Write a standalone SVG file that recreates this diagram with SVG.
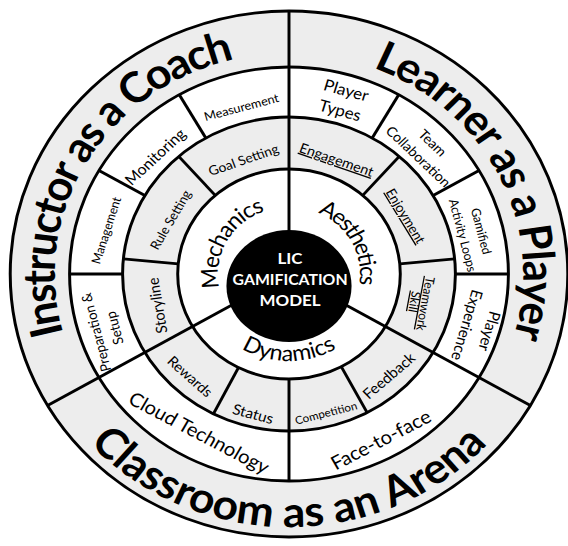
<svg xmlns="http://www.w3.org/2000/svg" width="568" height="546" viewBox="0 0 568 546">
  <defs>
    <style>
      .fill-g { fill: #ededed; stroke: #000; stroke-width: 2.8; }
      .fill-w { fill: #ffffff; stroke: #000; stroke-width: 2.8; }
      .div { stroke: #000; stroke-width: 2.8; fill: none; stroke-linecap: butt; }
      .lbl { font-family: Lato, "Open Sans", "DejaVu Sans", sans-serif; fill: #000; text-anchor: middle; }
      .big { font-family: Lato, "Open Sans", "DejaVu Sans", sans-serif; font-weight: 700; font-size: 42px; fill: #000; }
      .mid { font-family: Lato, "Open Sans", "DejaVu Sans", sans-serif; font-size: 22px; fill: #000; }
      .core { font-family: Lato, "Open Sans", "DejaVu Sans", sans-serif; font-weight: 700; font-size: 16px; fill: #fff; text-anchor: middle; }
      .u { text-decoration: underline; }
    </style>
    <!-- baseline arcs for the curved titles (model coordinates, centre at 0,0) -->
    <path id="arcCoach" d="M -212.96 59.05 A 221 221 0 0 1 -51.58 -214.90"/>
    <path id="arcLearner" d="M 79.20 -206.32 A 221 221 0 0 1 211.90 62.77"/>
    <path id="arcArena" d="M -188.01 169.29 A 253 253 0 0 0 187.12 170.28"/>
    <path id="arcMech" d="M -65.54 13.93 A 67 67 0 0 1 -22.92 -62.96"/>
    <path id="arcAes" d="M 27.25 -61.21 A 67 67 0 0 1 66.18 10.48"/>
    <path id="arcDyn" d="M -44.81 74.57 A 87 87 0 0 0 44.81 74.57"/>
  </defs>

  <rect width="568" height="546" fill="#fff"/>

  <g transform="translate(289,274) scale(1.06,1)">
    <!-- concentric rings -->
    <g id="rings">
      <circle class="fill-g" r="263"/>
      <circle class="fill-w" r="207"/>
      <circle class="fill-g" r="157"/>
      <circle class="fill-w" r="105"/>
    </g>

    <!-- sector dividers -->
    <g id="dividers" class="div">
      <line x1="0" y1="0" x2="0" y2="-263"/>
      <line x1="0" y1="0" x2="227.8" y2="131.5"/>
      <line x1="0" y1="0" x2="-227.8" y2="131.5"/>
      <line x1="78.5" y1="-135.97" x2="103.5" y2="-179.27"/>
      <line x1="135.97" y1="-78.5" x2="179.27" y2="-103.5"/>
      <line x1="157" y1="0" x2="207" y2="0"/>
      <line x1="0" y1="105" x2="0" y2="207"/>
      <line x1="-157" y1="0" x2="-207" y2="0"/>
      <line x1="-135.97" y1="-78.5" x2="-179.27" y2="-103.5"/>
      <line x1="-78.5" y1="-135.97" x2="-103.5" y2="-179.27"/>
      <line x1="69.57" y1="-78.65" x2="104.03" y2="-117.60"/>
      <line x1="104.52" y1="-10.06" x2="156.28" y2="-15.05"/>
      <line x1="49.29" y1="92.71" x2="73.71" y2="138.62"/>
      <line x1="-47.67" y1="93.56" x2="-71.28" y2="139.89"/>
      <line x1="-104.52" y1="-10.06" x2="-156.28" y2="-15.05"/>
      <line x1="-69.57" y1="-78.65" x2="-104.03" y2="-117.60"/>
    </g>

    <!-- outer ring titles -->
    <g id="instructor-as-a-coach">
      <text class="big"><textPath href="#arcCoach" textLength="354.9" lengthAdjust="spacing">Instructor as a Coach</textPath></text>
    </g>
    <g id="learner-as-a-player">
      <text class="big"><textPath href="#arcLearner" textLength="329.8" lengthAdjust="spacing">Learner as a Player</textPath></text>
    </g>
    <g id="classroom-as-an-arena">
      <text class="big"><textPath href="#arcArena" textLength="422.6" lengthAdjust="spacing">Classroom as an Arena</textPath></text>
    </g>

    <!-- third ring -->
    <g id="player-types">
      <text class="lbl" font-size="16" transform="translate(50.9,-173) rotate(16)"><tspan x="0" y="-5.5">Player</tspan><tspan x="0" y="15.5">Types</tspan></text>
    </g>
    <g id="team-collaboration">
      <text class="lbl" font-size="13.5" transform="translate(128.1,-123.7) rotate(45)"><tspan x="0" y="-5.5">Team</tspan><tspan x="0" y="13.5">Collaboration</tspan></text>
    </g>
    <g id="gamified-activity-loops">
      <text class="lbl" font-size="12" transform="translate(172.4,-40.7) rotate(76)"><tspan x="0" y="-5">Gamified</tspan><tspan x="0" y="13">Activity Loops</tspan></text>
    </g>
    <g id="player-experience">
      <text class="lbl" font-size="15" transform="translate(177.8,54) rotate(106)"><tspan x="0" y="-6.5">Player</tspan><tspan x="0" y="15.5">Experience</tspan></text>
    </g>
    <g id="face-to-face">
      <text class="lbl" font-size="19" transform="translate(86.8,166) rotate(-28.5)" y="6.5">Face-to-face</text>
    </g>
    <g id="cloud-technology">
      <text class="lbl" font-size="19" transform="translate(-84.9,159) rotate(29)" y="6.5">Cloud Technology</text>
    </g>
    <g id="preparation-setup">
      <text class="lbl" font-size="13.3" transform="translate(-172.6,56) rotate(-104)"><tspan x="0" y="-5">Preparation &amp;</tspan><tspan x="0" y="13">Setup</tspan></text>
    </g>
    <g id="management">
      <text class="lbl" font-size="12" transform="translate(-172.2,-43.5) rotate(-73)" y="4">Management</text>
    </g>
    <g id="monitoring">
      <text class="lbl" font-size="15" transform="translate(-126,-117) rotate(-44.5)" y="5">Monitoring</text>
    </g>
    <g id="measurement">
      <text class="lbl" font-size="12" transform="translate(-44.8,-166.5) rotate(-15.5)" y="4">Measurement</text>
    </g>

    <!-- second ring -->
    <g id="goal-setting">
      <text class="lbl" font-size="13" transform="translate(-42.9,-114) rotate(-20)" y="4.5">Goal Setting</text>
    </g>
    <g id="rule-setting">
      <text class="lbl" font-size="12.5" transform="translate(-111.3,-54) rotate(-61)" y="4">Rule Setting</text>
    </g>
    <g id="storyline">
      <text class="lbl" font-size="14.5" transform="translate(-124,31.5) rotate(-99)" y="5">Storyline</text>
    </g>
    <g id="rewards">
      <text class="lbl" font-size="14" transform="translate(-93.4,102.5) rotate(43)" y="5">Rewards</text>
    </g>
    <g id="status">
      <text class="lbl" font-size="14.5" transform="translate(-34,140) rotate(16)" y="5">Status</text>
    </g>
    <g id="competition">
      <text class="lbl" font-size="11" transform="translate(34.9,139) rotate(-15)" y="4">Competition</text>
    </g>
    <g id="feedback">
      <text class="lbl" font-size="14.5" transform="translate(94.3,102) rotate(-42)" y="5">Feedback</text>
    </g>
    <g id="teamwork-skill">
      <text class="lbl u" font-size="12" transform="translate(123.1,28.7) rotate(100)"><tspan x="0" y="-1.5">Teamwork</tspan><tspan x="0" y="9">Skill</tspan></text>
    </g>
    <g id="enjoyment">
      <text class="lbl u" font-size="13" transform="translate(109.9,-58) rotate(60)" y="4.5">Enjoyment</text>
    </g>
    <g id="engagement">
      <text class="lbl u" font-size="13.5" transform="translate(44.8,-114) rotate(20)" y="4.5">Engagement</text>
    </g>

    <!-- inner ring -->
    <g id="mechanics">
      <text class="mid"><textPath href="#arcMech" textLength="95.9" lengthAdjust="spacing">Mechanics</textPath></text>
    </g>
    <g id="aesthetics">
      <text class="mid"><textPath href="#arcAes" textLength="87.7" lengthAdjust="spacing">Aesthetics</textPath></text>
    </g>
    <g id="dynamics">
      <text class="mid"><textPath href="#arcDyn" textLength="94.1" lengthAdjust="spacing">Dynamics</textPath></text>
    </g>

    <!-- core -->
    <g id="lic-gamification-model">
      <ellipse cx="0" cy="12" rx="59" ry="56" fill="#000"/>
      <text class="core" x="1" y="-10.5">LIC</text>
      <text class="core" x="1" y="11" textLength="108.5" lengthAdjust="spacingAndGlyphs">GAMIFICATION</text>
      <text class="core" x="1" y="32.5">MODEL</text>
    </g>
  </g>
</svg>
